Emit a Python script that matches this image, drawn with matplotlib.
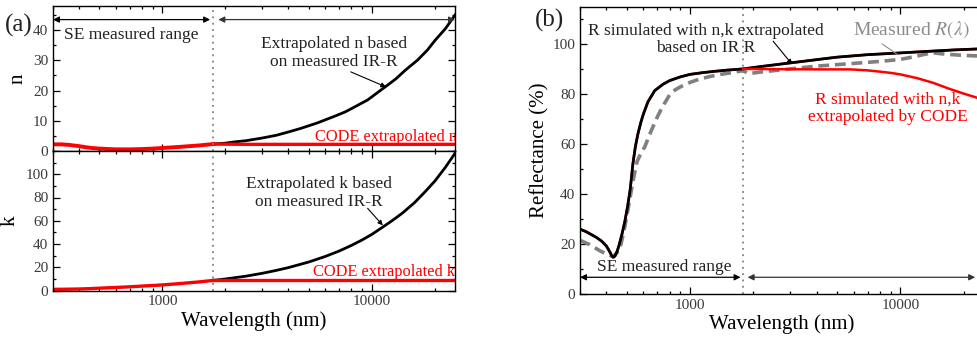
import matplotlib
matplotlib.use("Agg")
import matplotlib.pyplot as plt
from matplotlib.ticker import MultipleLocator, LogLocator, NullFormatter, FixedLocator, FixedFormatter

plt.rcParams['font.family'] = ['Liberation Serif', 'DejaVu Serif']
plt.rcParams['mathtext.fontset'] = 'stix'

# ---------------- data ----------------
# (a) n: SE measured range (shared by both models)
n_se_wl = [300, 330, 360, 400, 430, 460, 500, 550, 600, 700, 800, 900, 1000, 1200, 1500, 1750]
n_se = [2.2, 2.2, 2.0, 1.6, 1.25, 1.0, 0.8, 0.65, 0.55, 0.55, 0.65, 0.8, 1.0, 1.35, 1.85, 2.3]
# extrapolated n based on IR-R
n_ir_wl = [1750, 2000, 2200, 2500, 3000, 3500, 4000, 4590, 5500, 6590, 7500, 8500, 9560,
           10500, 11640, 13000, 14500, 16560, 18500, 20000, 22500, 25000]
n_ir = [2.3, 2.6, 3.0, 3.4, 4.3, 5.2, 6.3, 7.5, 9.3, 11.4, 13.0, 15.0, 16.9,
        19.0, 21.3, 23.8, 26.8, 30.1, 33.5, 36.5, 40.5, 45.0]
# CODE extrapolated n
n_code_wl = [1750, 2500, 25000]
n_code = [2.3, 2.2, 2.2]

# (a) k
k_se_wl = [300, 350, 400, 450, 500, 600, 700, 800, 900, 1000, 1200, 1500, 1750]
k_se = [1.0, 1.1, 1.3, 1.6, 2.0, 2.6, 3.2, 3.8, 4.3, 4.8, 5.9, 7.4, 8.7]
k_ir_wl = [1750, 2000, 2500, 3000, 3500, 4000, 5000, 6000, 7000, 8000, 9000, 10000,
           11300, 12500, 14000, 16000, 18000, 20000, 22500, 25000]
k_ir = [8.7, 9.9, 12.3, 14.8, 17.3, 19.7, 24.5, 29.3, 34.0, 38.8, 43.5, 48.2,
        54.6, 60.0, 66.5, 75.5, 85.0, 94.0, 106.0, 118.0]
k_code_wl = [1750, 25000]
k_code = [8.7, 8.7]

# (b) reflectance (%)
r_sim_wl = [300, 320, 340, 360, 380, 400, 415, 425, 432, 440, 450, 460, 475, 490, 505,
            520, 535, 550, 565, 585, 600, 631, 680, 743, 800, 900, 1000, 1150, 1300,
            1500, 1790, 2200, 3000, 4000, 5000, 7000, 10000, 14000, 18000, 25000]
r_sim = [26, 25, 23.8, 22.6, 21.2, 19.3, 17, 15.3, 14.7, 15.2, 17, 19.5, 24, 29, 35,
         42, 52, 59, 64, 69, 72, 77, 81.5, 84, 85.5, 87, 88, 88.7, 89.2,
         89.7, 90.2, 91.2, 92.6, 93.9, 94.9, 95.9, 96.6, 97.3, 97.8, 98.3]
r_code_wl = [1790, 2500, 4000, 5800, 7000, 8000, 9000, 10000, 12000, 14350, 17000,
             20000, 23270, 25000]
r_code = [90.2, 90.1, 90.0, 90.0, 89.6, 89.1, 88.6, 88.0, 86.5, 84.6, 82.3,
          80.3, 78.6, 77.5]
r_meas_wl = [300, 330, 370, 400, 430, 450, 470, 490, 510, 535, 560, 585, 610, 640, 667,
             700, 740, 803, 850, 900, 1000, 1100, 1250, 1400, 1600, 1790, 1900, 2100,
             2500, 3000, 4000, 6000, 8000, 10000, 11500, 13000, 14200, 15500, 17000,
             20000, 25000]
r_meas = [21.5, 20, 17.5, 16, 15, 16.5, 20, 27, 35, 45, 53, 56.5, 59, 63.5, 67,
          71, 75, 80, 81.8, 83, 84.8, 86, 87.2, 88, 88.8, 89.5, 88.3, 88.8,
          89.5, 90.2, 91.3, 92.4, 93.2, 94, 95, 96, 96.7, 96.3, 96,
          95.6, 95.3]

se_edge_a = 1750
se_edge_b = 1790

# ---------------- figure ----------------
fig = plt.figure(figsize=(9.77, 3.45), dpi=100)
W, H = 977, 345

def box(x0, y0, x1, y1):
    return [x0 / W, 1 - y1 / H, (x1 - x0) / W, (y1 - y0) / H]

ax_n = fig.add_axes(box(53, 6, 455, 151))
ax_k = fig.add_axes(box(53, 151, 455, 290.5))
ax_r = fig.add_axes(box(580, 7, 984, 294))

tick_col = '#3a3a3a'
txt_col = '#222222'

def style(ax, xlabels=True):
    ax.set_xscale('log')
    ax.set_xlim(300, 25000)
    ax.xaxis.set_major_locator(FixedLocator([1000, 10000]))
    ax.xaxis.set_major_formatter(FixedFormatter(['1000', '10000']))
    ax.xaxis.set_minor_locator(LogLocator(base=10, subs=range(2, 10), numticks=20))
    ax.xaxis.set_minor_formatter(NullFormatter())
    ax.tick_params(which='both', direction='in', top=True, right=True,
                   labelsize=11, labelcolor=tick_col, width=0.9)
    ax.tick_params(which='major', length=5)
    ax.tick_params(which='minor', length=2.5)
    if not xlabels:
        ax.tick_params(axis='x', labelbottom=False)
    for s in ax.spines.values():
        s.set_linewidth(1.0)

style(ax_n, xlabels=False)
style(ax_k)
style(ax_r)

arrow_kw = dict(arrowstyle='<|-|>', lw=0.9, mutation_scale=9, shrinkA=0, shrinkB=0)
dot_ls = (0, (1, 2.5))

# ---- (a) n ----
ax_n.plot(n_ir_wl, n_ir, color='black', lw=2.0)
ax_n.plot(n_se_wl, n_se, color='red', lw=2.8)
ax_n.plot(n_code_wl, n_code, color='red', lw=2.4)
ax_n.set_ylim(0, 48)
ax_n.yaxis.set_major_locator(MultipleLocator(10))
ax_n.yaxis.set_minor_locator(MultipleLocator(5))
ax_n.set_ylabel('n', fontsize=15, labelpad=4)
ax_n.axvline(se_edge_a, color='gray', ls=dot_ls, lw=1.3)

ax_n.annotate('', xy=(300, 43.5), xytext=(1690, 43.5),
              arrowprops=dict(color='black', **arrow_kw))
ax_n.annotate('', xy=(1850, 43.5), xytext=(25000, 43.5),
              arrowprops=dict(color='#333333', **arrow_kw))
ax_n.text(338, 38.5, 'SE measured range', fontsize=12.5, ha='left', va='center', color=txt_col)
ax_n.text(6600, 32.4, 'Extrapolated n based\non measured IR-R', fontsize=12.5,
          ha='center', va='center', color=txt_col, linespacing=1.15)
ax_n.annotate('', xy=(11700, 21.2), xytext=(7940, 26.2),
              arrowprops=dict(arrowstyle='-|>', color='black', lw=0.8, mutation_scale=7,
                              shrinkA=0, shrinkB=0))
ax_n.text(5350, 4.6, 'CODE extrapolated n', fontsize=11.8, color='red',
          ha='left', va='center', clip_on=True)
fig.text(5 / W, 1 - 25 / H, '(a)', fontsize=18, ha='left', va='center', color=txt_col)

# ---- (a) k ----
ax_k.plot(k_ir_wl, k_ir, color='black', lw=2.0)
ax_k.plot(k_se_wl, k_se, color='red', lw=2.4)
ax_k.plot(k_code_wl, k_code, color='red', lw=2.4)
ax_k.set_ylim(0, 120)
ax_k.yaxis.set_major_locator(FixedLocator([0, 20, 40, 60, 80, 100]))
ax_k.yaxis.set_minor_locator(MultipleLocator(10))
ax_k.set_ylabel('k', fontsize=15, labelpad=4)
ax_k.axvline(se_edge_a, color='gray', ls=dot_ls, lw=1.3)
ax_k.set_xlabel('Wavelength (nm)', fontsize=15, labelpad=2)
ax_k.text(5600, 84, 'Extrapolated k based\non measured IR-R', fontsize=12.5,
          ha='center', va='center', color=txt_col, linespacing=1.15)
ax_k.annotate('', xy=(11300, 56), xytext=(9560, 70.7),
              arrowprops=dict(arrowstyle='-|>', color='black', lw=0.8, mutation_scale=7,
                              shrinkA=0, shrinkB=0))
ax_k.text(5250, 15.5, 'CODE extrapolated k', fontsize=11.8, color='red',
          ha='left', va='center', clip_on=True)

# ---- (b) reflectance ----
ax_r.plot(r_sim_wl, r_sim, color='red', lw=1.8)
ax_r.plot(r_meas_wl, r_meas, color='#808080', lw=2.6, ls=(0, (3, 1.6)))
ax_r.plot(r_sim_wl, r_sim, color='black', lw=2.0)
ax_r.plot(r_code_wl, r_code, color='red', lw=1.8)
ax_r.set_ylim(0, 115)
ax_r.yaxis.set_major_locator(FixedLocator([0, 20, 40, 60, 80, 100]))
ax_r.yaxis.set_minor_locator(MultipleLocator(10))
ax_r.set_ylabel('Reflectance (%)', fontsize=15, labelpad=2)
ax_r.set_xlabel('Wavelength (nm)', fontsize=15, labelpad=2)
ax_r.axvline(se_edge_b, color='gray', ls=dot_ls, lw=1.3)

ax_r.text(1190, 102, 'R simulated with n,k extrapolated\nbased on IR R', fontsize=12.5,
          ha='center', va='center', color=txt_col, linespacing=1.15)
ax_r.annotate('', xy=(3060, 92), xytext=(2485, 101.3),
              arrowprops=dict(arrowstyle='-|>', color='black', lw=0.8, mutation_scale=7,
                              shrinkA=0, shrinkB=0))
ax_r.text(5970, 106, r'Measured $R(\lambda)$', fontsize=14, color='#8c8c8c',
          ha='left', va='center')
ax_r.annotate('', xy=(9680, 96), xytext=(8200, 100.2),
              arrowprops=dict(arrowstyle='-', color='#8c8c8c', lw=0.8, shrinkA=0, shrinkB=0))
ax_r.text(8710, 74.3, 'R simulated with n,k\nextrapolated by CODE', fontsize=12.5,
          ha='center', va='center', color='red', linespacing=1.15)
ax_r.text(752, 10.9, 'SE measured range', fontsize=12.5, ha='center', va='center', color=txt_col)
ax_r.annotate('', xy=(300, 6.7), xytext=(1740, 6.7),
              arrowprops=dict(color='black', **arrow_kw))
ax_r.annotate('', xy=(1880, 6.7), xytext=(22700, 6.7),
              arrowprops=dict(color='#333333', **arrow_kw))
fig.text(535 / W, 1 - 20 / H, '(b)', fontsize=18, ha='left', va='center', color=txt_col)

fig.savefig('out.png', dpi=100)
